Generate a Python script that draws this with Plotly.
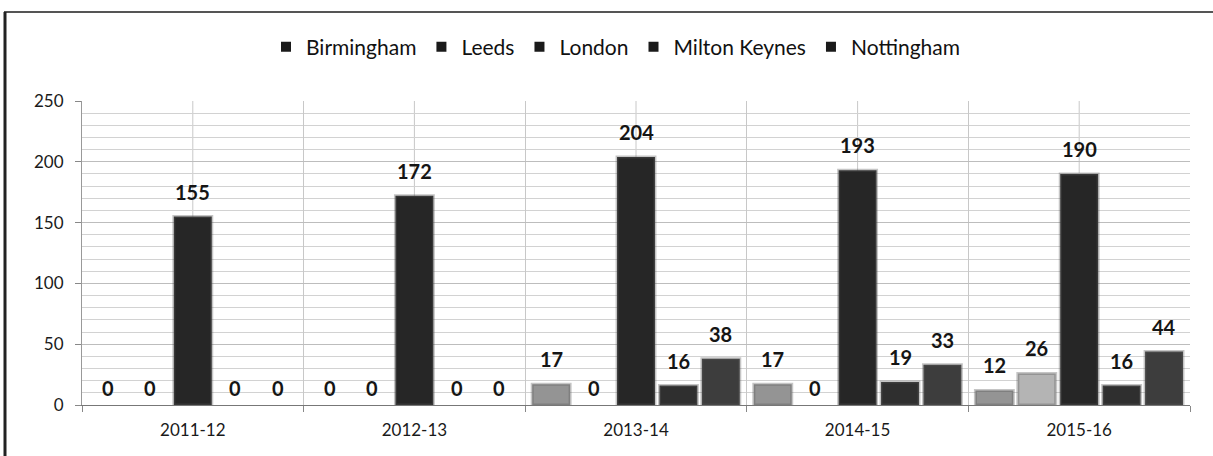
import plotly.graph_objects as go

# Yearly counts per office
years = ["2011-12", "2012-13", "2013-14", "2014-15", "2015-16"]
birmingham = [0, 0, 17, 17, 12]
leeds = [0, 0, 0, 0, 26]
london = [155, 172, 204, 193, 190]
milton_keynes = [0, 0, 16, 19, 16]
nottingham = [0, 0, 38, 33, 44]

series = [
    ("Birmingham", birmingham, "#949494"),
    ("Leeds", leeds, "#b4b4b4"),
    ("London", london, "#262626"),
    ("Milton Keynes", milton_keynes, "#2f2f2f"),
    ("Nottingham", nottingham, "#3d3d3d"),
]

FONT = "Lato, 'Open Sans', sans-serif"
W, H = 1213, 456
ML, MR, MT, MB = 82, 23, 101, 51
PW = W - ML - MR
PH = H - MT - MB

# bar geometry in category units
GROUP = 0.957
SLOT = GROUP / len(series)
BAR_W = 0.171

fig = go.Figure()
annotations = []

for i, (name, vals, col) in enumerate(series):
    off = -GROUP / 2 + SLOT * i + (SLOT - BAR_W) / 2
    fig.add_trace(go.Bar(
        name=name, x=years, y=vals, width=BAR_W, offset=off,
        marker=dict(color=col,
                    line=dict(color="rgba(90,90,90,0.35)",
                              width=[3 if v > 0 else 0 for v in vals])),
        showlegend=False,
    ))
    for j, v in enumerate(vals):
        annotations.append(dict(
            x=j + off + BAR_W / 2, y=v, xref="x", yref="y",
            text=f"<b>{v}</b>", showarrow=False,
            yanchor="middle", yshift=25 if v > 0 else 17,
            font=dict(family=FONT, size=20, color="#151515"),
        ))

# legend entries drawn as dark square markers
for name, vals, col in series:
    fig.add_trace(go.Scatter(
        name=name, x=[None], y=[None], mode="markers",
        marker=dict(symbol="square", size=10, color="#1a1a1a"),
        showlegend=True,
    ))

shapes = []
# vertical gridlines at category centres
for i in range(len(years)):
    shapes.append(dict(type="line", xref="x", yref="y", x0=i, x1=i, y0=0, y1=250,
                       line=dict(color="#c8c8c8", width=1), layer="below"))


def px_to_paper_x(px):
    return (px - ML) / PW


def px_to_paper_y(py):
    return (H - MB - py) / PH


# outer frame lines (top and left)
shapes.append(dict(type="line", xref="paper", yref="paper",
                   x0=px_to_paper_x(4), x1=px_to_paper_x(1213),
                   y0=px_to_paper_y(12), y1=px_to_paper_y(12),
                   line=dict(color="#555555", width=2)))
shapes.append(dict(type="line", xref="paper", yref="paper",
                   x0=px_to_paper_x(5), x1=px_to_paper_x(5),
                   y0=px_to_paper_y(12), y1=px_to_paper_y(456),
                   line=dict(color="#222222", width=3)))

fig.update_layout(
    width=W, height=H,
    margin=dict(l=ML, r=MR, t=MT, b=MB),
    paper_bgcolor="white", plot_bgcolor="white",
    barmode="overlay",
    font=dict(family=FONT, size=16, color="#1a1a1a"),
    legend=dict(orientation="h", x=px_to_paper_x(616), xanchor="center",
                y=px_to_paper_y(47), yanchor="middle",
                font=dict(family=FONT, size=21, color="#111111"),
                itemwidth=30, tracegroupgap=0),
    shapes=shapes,
    annotations=annotations,
    xaxis=dict(
        type="category", tickson="boundaries", ticks="outside", ticklen=6,
        tickcolor="#888888", showgrid=True, gridcolor="#c8c8c8", gridwidth=1,
        showline=True, linecolor="#777777", linewidth=1,
        tickfont=dict(family=FONT, size=17, color="#1a1a1a"),
        ticklabelstandoff=10, range=[-0.5, 4.5],
    ),
    yaxis=dict(
        range=[0, 250], dtick=50, ticks="outside", ticklen=6, tickcolor="#888888",
        showgrid=True, gridcolor="#bdbdbd", gridwidth=1,
        minor=dict(dtick=10, showgrid=True, gridcolor="#d2d2d2", gridwidth=1),
        showline=True, linecolor="#999999", linewidth=1, zeroline=False,
        tickfont=dict(family=FONT, size=17, color="#1a1a1a"),
        ticklabelstandoff=8,
    ),
)

fig.write_html("out.html")
